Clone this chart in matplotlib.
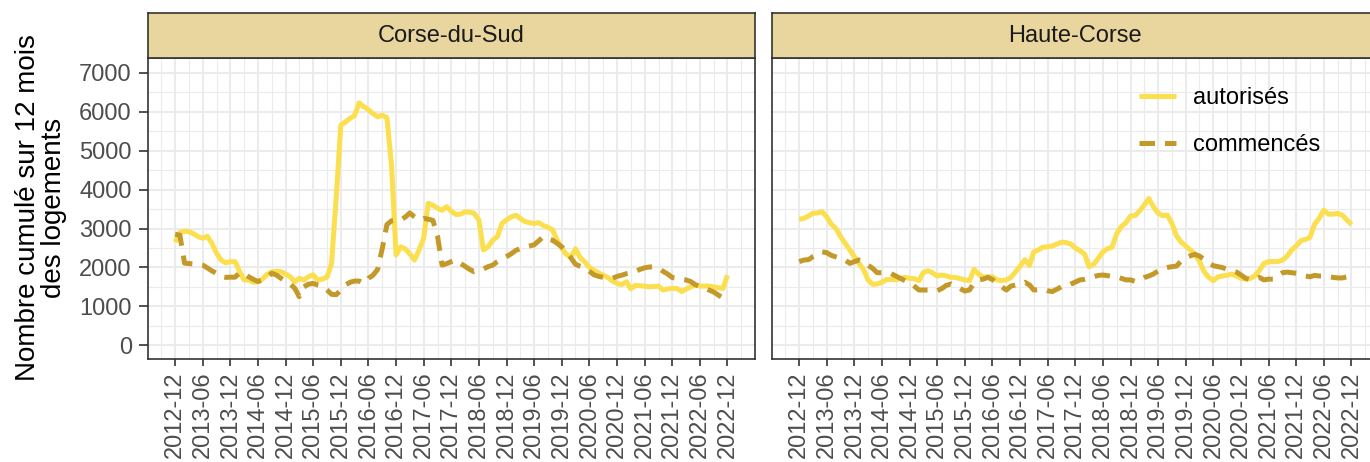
import numpy as np
import pandas as pd
import matplotlib
matplotlib.use("Agg")
import matplotlib.pyplot as plt
import matplotlib.dates as mdates

plt.rcParams['font.family'] = ['Liberation Sans', 'DejaVu Sans']

# monthly series, 2012-12 .. 2022-12
months = pd.date_range('2012-12-01', '2022-12-01', freq='MS')

cds_autorises = [
    2650, 2900, 2930, 2920, 2870, 2790, 2750, 2800, 2620, 2360,
    2190, 2120, 2150, 2150, 1890, 1680, 1680, 1620, 1630, 1700,
    1820, 1890, 1900, 1890, 1830, 1760, 1630, 1720, 1680, 1760,
    1810, 1680, 1700, 1750, 2100, 3800, 5650, 5740, 5830, 5900,
    6230, 6130, 6050, 5950, 5870, 5910, 5850, 4600, 2320, 2530,
    2470, 2350, 2190, 2440, 2750, 3650, 3600, 3520, 3470, 3560,
    3440, 3360, 3370, 3430, 3420, 3390, 3220, 2450, 2530, 2700,
    2790, 3130, 3220, 3300, 3340, 3260, 3180, 3150, 3130, 3150,
    3080, 3030, 2970, 2700, 2500, 2330, 2270, 2480, 2250, 2150,
    2000, 1930, 1860, 1800, 1740, 1650, 1590, 1560, 1630, 1450,
    1540, 1530, 1520, 1500, 1510, 1520, 1420, 1450, 1460, 1460,
    1380, 1440, 1500, 1550, 1520, 1520, 1520, 1500, 1480, 1460,
    1800]
cds_commences = [
    2850, 2830, 2110, 2100, 2090, 2080, 2060, 1990, 1910, 1850,
    1760, 1745, 1750, 1750, 1865, 1850, 1760, 1695, 1640, 1680,
    1750, 1850, 1805, 1720, 1640, 1570, 1460, 1250, 1500, 1570,
    1590, 1550, 1520, 1420, 1310, 1300, 1420, 1550, 1620, 1650,
    1650, 1590, 1720, 1800, 1950, 2500, 3100, 3200, 3220, 3220,
    3300, 3400, 3300, 3220, 3260, 3240, 3210, 2800, 2060, 2100,
    2150, 2190, 2100, 2030, 1950, 1890, 1920, 1960, 2020, 2060,
    2150, 2220, 2280, 2350, 2440, 2480, 2520, 2550, 2580, 2680,
    2790, 2730, 2700, 2620, 2530, 2410, 2240, 2080, 2030, 1990,
    1900, 1810, 1770, 1745, 1730, 1720, 1770, 1800, 1840, 1860,
    1900, 1950, 1990, 2010, 2020, 1980, 1900, 1830, 1740, 1720,
    1695, 1680, 1640, 1560, 1510, 1470, 1420, 1370, 1290, 1220,
    1200]
hc_autorises = [
    3235, 3260, 3320, 3390, 3400, 3430, 3300, 3110, 3000, 2790,
    2620, 2450, 2275, 2105, 1930, 1680, 1565, 1575, 1620, 1690,
    1690, 1680, 1720, 1745, 1720, 1710, 1660, 1865, 1915, 1865,
    1780, 1805, 1780, 1745, 1745, 1710, 1680, 1660, 1950, 1830,
    1745, 1760, 1760, 1680, 1660, 1680, 1745, 1890, 2030, 2200,
    2050, 2400, 2450, 2520, 2530, 2550, 2600, 2650, 2640, 2600,
    2500, 2430, 2340, 2020, 2080, 2230, 2400, 2480, 2520, 2870,
    3050, 3150, 3320, 3335, 3460, 3600, 3770, 3560, 3400, 3330,
    3345, 3130, 2810, 2650, 2550, 2450, 2340, 2150, 1890, 1745,
    1660, 1760, 1780, 1800, 1830, 1780, 1720, 1700, 1720, 1780,
    1920, 2100, 2150, 2150, 2150, 2190, 2290, 2450, 2550, 2690,
    2720, 2770, 3110, 3260, 3470, 3370, 3370, 3390, 3340, 3220,
    3100]
hc_commences = [
    2150, 2190, 2200, 2275, 2330, 2400, 2380, 2310, 2270, 2230,
    2190, 2105, 2150, 2190, 2150, 2060, 1975, 1865, 1865, 1865,
    1840, 1780, 1720, 1660, 1610, 1520, 1420, 1420, 1420, 1420,
    1400, 1455, 1540, 1575, 1520, 1455, 1395, 1420, 1610, 1680,
    1700, 1745, 1690, 1590, 1505, 1420, 1520, 1550, 1575, 1620,
    1550, 1420, 1430, 1440, 1400, 1380, 1440, 1505, 1510, 1570,
    1625, 1680, 1695, 1720, 1760, 1795, 1805, 1790, 1770, 1760,
    1720, 1680, 1680, 1640, 1680, 1740, 1780, 1830, 1910, 1970,
    2000, 2020, 2035, 2165, 2250, 2300, 2335, 2290, 2210, 2105,
    2045, 2020, 1995, 1950, 1915, 1880, 1805, 1720, 1680, 1695,
    1745, 1680, 1700, 1700, 1790, 1865, 1880, 1865, 1850, 1805,
    1780, 1760, 1795, 1780, 1780, 1760, 1745, 1730, 1730, 1760,
    1820]

panels = ['Corse-du-Sud', 'Haute-Corse']
series_labels = ['autorisés', 'commencés']
y_ticks = [0, 1000, 2000, 3000, 4000, 5000, 6000, 7000]
tick_dates = pd.date_range('2012-12-01', '2022-12-01', freq='6MS')
tick_labels = [d.strftime('%Y-%m') for d in tick_dates]

YELLOW = '#FBDF4F'
GOLD = '#C39A2A'
STRIP = '#E9D59E'
DARK = '#333333'
FS = 17

W, H = 1370, 462
fig = plt.figure(figsize=(W / 100, H / 100), dpi=100)

px = lambda x0, y0, x1, y1: [x0 / W, 1 - y1 / H, (x1 - x0) / W, (y1 - y0) / H]
panel_boxes = [(147.5, 58, 755, 359), (771.5, 58, 1379, 359)]
data = [(cds_autorises, cds_commences), (hc_autorises, hc_commences)]

xnum = mdates.date2num(months)
xmin = mdates.date2num(pd.Timestamp('2012-06-01'))
xmax = mdates.date2num(pd.Timestamp('2023-06-01'))
minor_x = mdates.date2num(pd.date_range('2012-09-01', '2023-03-01', freq='6MS'))

axes = []
for i, (name, box, (aut, com)) in enumerate(zip(panels, panel_boxes, data)):
    x0, y0, x1, y1 = box
    ax = fig.add_axes(px(x0, y0, x1, y1))
    ax.set_facecolor('white')
    ax.plot(xnum, aut, color=YELLOW, lw=3.6, solid_capstyle='butt', label=series_labels[0], zorder=3)
    ax.plot(xnum, com, color=GOLD, lw=3.6, dashes=(3.1, 2.0), dash_capstyle='butt', label=series_labels[1], zorder=3)
    ax.set_xlim(xmin, xmax)
    ax.set_ylim(-352, 7380)
    ax.set_xticks(mdates.date2num(tick_dates))
    ax.set_xticklabels(tick_labels, rotation=90, fontsize=FS, color='#4D4D4D')
    ax.set_xticks(minor_x, minor=True)
    ax.set_yticks(y_ticks)
    ax.set_yticks([v + 500 for v in y_ticks[:-1]], minor=True)
    if i == 0:
        ax.set_yticklabels([str(v) for v in y_ticks], fontsize=FS, color='#4D4D4D')
        ax.tick_params(axis='y', which='major', length=6.3, width=1.2, color=DARK, pad=5)
    else:
        ax.tick_params(axis='y', which='major', left=False, labelleft=False)
    ax.tick_params(axis='x', which='major', length=5, width=1.2, color=DARK, pad=4)
    ax.tick_params(which='minor', length=0)
    ax.grid(which='major', color='#EBEBEB', lw=1.5)
    ax.grid(which='minor', color='#EBEBEB', lw=0.8)
    ax.set_axisbelow(True)
    for s in ax.spines.values():
        s.set_color(DARK)
        s.set_linewidth(1.2)

    # facet strip on top of each panel
    sax = fig.add_axes(px(x0, 13, x1, y0))
    sax.set_facecolor(STRIP)
    sax.set_xticks([])
    sax.set_yticks([])
    for s in sax.spines.values():
        s.set_color(DARK)
        s.set_linewidth(1.2)
    sax.text(0.5, 0.5, name, transform=sax.transAxes, ha='center', va='center',
             fontsize=FS, color='#1A1A1A')
    axes.append(ax)

fig.text(41 / W, 1 - 208 / H, 'Nombre cumulé sur 12 mois\ndes logements', rotation=90,
         ha='center', va='center', fontsize=20, linespacing=1.0, color='black')

handles, labels = axes[1].get_legend_handles_labels()
fig.legend(handles, labels, loc='upper left', bbox_to_anchor=(1139 / W, 1 - 87 / H),
           frameon=False, fontsize=FS, handlelength=1.55, handletextpad=0.72,
           labelspacing=1.05, borderpad=0, borderaxespad=0)

fig.savefig('out.png', dpi=100)
